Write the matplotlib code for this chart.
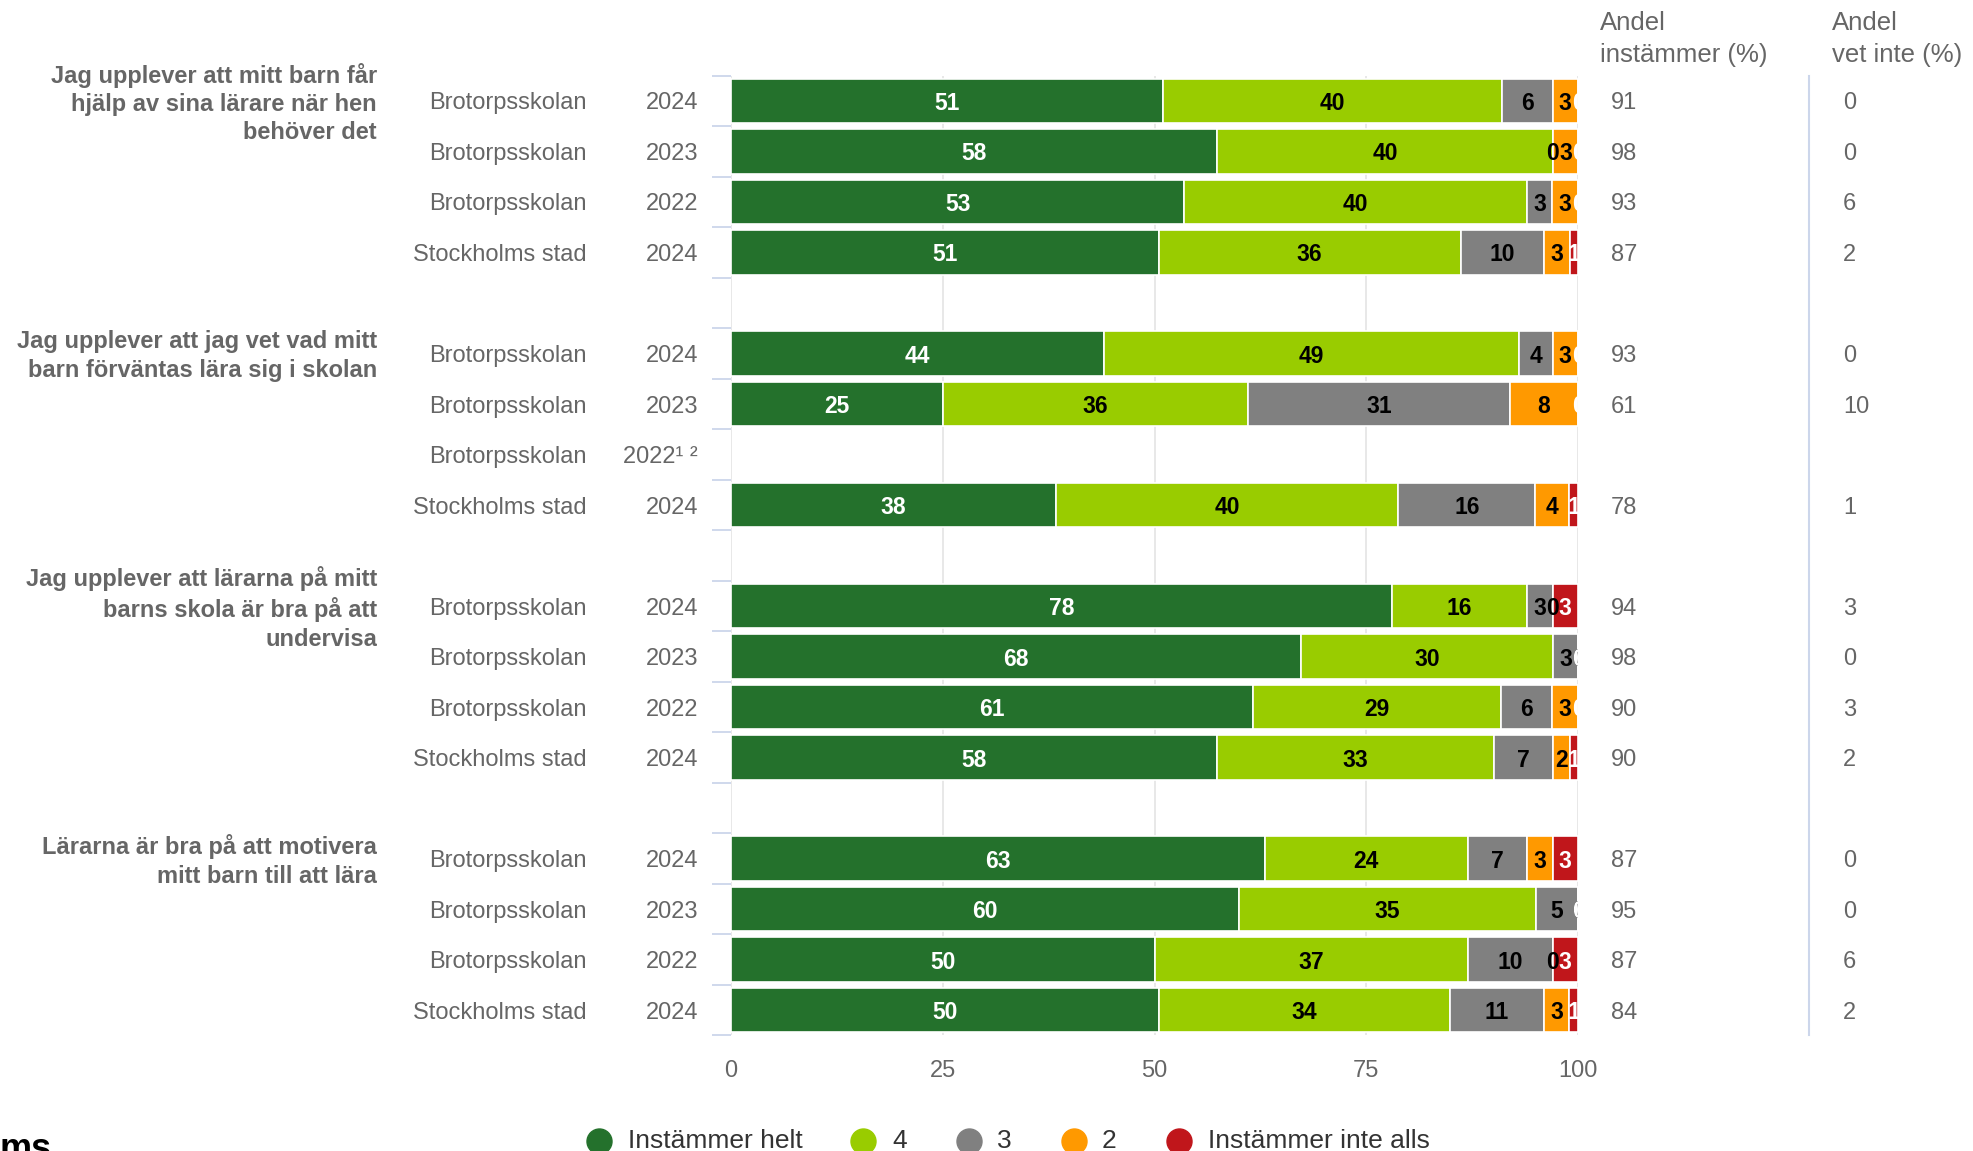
import matplotlib
matplotlib.use("Agg")
import matplotlib.pyplot as plt
import matplotlib.transforms as mtransforms
from matplotlib.lines import Line2D
import numpy as np

plt.rcParams['font.family'] = ['Liberation Sans', 'DejaVu Sans']

# ---------------- data ----------------
questions = [
    "Jag upplever att mitt barn får\nhjälp av sina lärare när hen\nbehöver det",
    "Jag upplever att jag vet vad mitt\nbarn förväntas lära sig i skolan",
    "Jag upplever att lärarna på mitt\nbarns skola är bra på att\nundervisa",
    "Lärarna är bra på att motivera\nmitt barn till att lära",
]
units = ["Brotorpsskolan", "Brotorpsskolan", "Brotorpsskolan", "Stockholms stad"]
years = [
    ["2024", "2023", "2022", "2024"],
    ["2024", "2023", "2022¹ ²", "2024"],
    ["2024", "2023", "2022", "2024"],
    ["2024", "2023", "2022", "2024"],
]
series_names = ["Instämmer helt", "4", "3", "2", "Instämmer inte alls"]
helt = [51, 58, 53, 51, 44, 25, None, 38, 78, 68, 61, 58, 63, 60, 50, 50]
v4 = [40, 40, 40, 36, 49, 36, None, 40, 16, 30, 29, 33, 24, 35, 37, 34]
v3 = [6, 0, 3, 10, 4, 31, None, 16, 3, 3, 6, 7, 7, 5, 10, 11]
v2 = [3, 3, 3, 3, 3, 8, None, 4, 0, 0, 3, 2, 3, 0, 0, 3]
v1 = [0, 0, 0, 1, 0, 0, None, 1, 3, 0, 0, 1, 3, 0, 3, 1]
andel_instammer = ["91", "98", "93", "87", "93", "61", "", "78",
                   "94", "98", "90", "90", "87", "95", "87", "84"]
andel_vet_inte = ["0", "0", "6", "2", "0", "10", "", "1",
                  "3", "0", "3", "2", "0", "0", "6", "2"]
xticks = [0, 25, 50, 75, 100]

colors = ["#24712c", "#99cc00", "#808080", "#ff9900", "#c0161b"]
label_colors = ["white", "black", "black", "black", "white"]

W, H = 1973, 1151
fig = plt.figure(figsize=(W / 100, H / 100), dpi=100)
ax_top, ax_bot = 75.7, 1035.3
ax = fig.add_axes([731 / W, 1 - ax_bot / H, 847 / W, (ax_bot - ax_top) / H])

# positions: 4 groups of 4 with a blank slot between groups
positions = []
for g in range(4):
    for r in range(4):
        positions.append(g * 5 + r)
nslots = 19

series = [helt, v4, v3, v2, v1]
for i, pos in enumerate(positions):
    vals = [s[i] for s in series]
    if vals[0] is None:
        continue
    total = float(sum(vals))
    left = 0.0
    for k, v in enumerate(vals):
        w = v / total * 100.0
        ax.barh(pos, w, left=left, height=0.88, color=colors[k],
                edgecolor="white", linewidth=1.2, zorder=2)
        ax.text(left + w / 2.0, pos + 0.05, str(v), ha="center", va="center",
                fontsize=16.5, fontweight="bold", color=label_colors[k],
                clip_on=True, zorder=5)
        left += w

ax.set_xlim(0, 100)
ax.set_ylim(nslots - 0.5, -0.5)
ax.set_xticks(xticks)
ax.set_xticklabels([str(t) for t in xticks])
ax.tick_params(axis="x", length=0, pad=18, labelsize=17, labelcolor="#666666")
ax.set_yticks(np.arange(-0.5, nslots, 1.0))
ax.set_yticklabels([])
ax.tick_params(axis="y", length=14, width=1.3, color="#ccd6eb", direction="out")
ax.grid(axis="x", color="#e6e6e6", linewidth=1.3, zorder=0)
ax.grid(axis="y", visible=False)
ax.set_axisbelow(True)
for sp in ax.spines.values():
    sp.set_visible(False)

trans = mtransforms.blended_transform_factory(fig.transFigure, ax.transData)
dy = 0.05
for i, pos in enumerate(positions):
    g, r = divmod(i, 4)
    ax.text(587 / W, pos + dy, units[r], transform=trans, ha="right", va="center",
            fontsize=17, color="#666666")
    ax.text(698 / W, pos + dy, years[g][r], transform=trans, ha="right", va="center",
            fontsize=17, color="#666666")
    ax.text(1611 / W, pos + dy, andel_instammer[i], transform=trans, ha="left",
            va="center", fontsize=17, color="#666666")
    ax.text(1843 / W, pos + dy, andel_vet_inte[i], transform=trans, ha="left",
            va="center", fontsize=17, color="#666666")

for g, q in enumerate(questions):
    ax.text(377 / W, g * 5 + dy, q, transform=trans, ha="right", va="center",
            fontsize=17, fontweight="bold", color="#666666", linespacing=1.3)

# column headers
fig.text(1600 / W, 1 - 39 / H, "Andel\ninstämmer (%)", ha="left", va="center",
         fontsize=18.5, color="#666666", linespacing=1.45)
fig.text(1832 / W, 1 - 39 / H, "Andel\nvet inte (%)", ha="left", va="center",
         fontsize=18.5, color="#666666", linespacing=1.45)

# separator line
fig.add_artist(Line2D([1809 / W, 1809 / W], [1 - ax_top / H, 1 - ax_bot / H],
                      transform=fig.transFigure, color="#ccd6eb", linewidth=1.5))

# legend
leg_y = 1 - 1141 / H
marker_x = [599, 863, 969, 1074, 1179]
text_x = [628, 892, 997, 1102, 1208]
for k, name in enumerate(series_names):
    fig.add_artist(Line2D([marker_x[k] / W], [leg_y], marker="o", markersize=18,
                          color=colors[k], linestyle="none",
                          transform=fig.transFigure))
    fig.text(text_x[k] / W, leg_y, name, ha="left", va="center",
             fontsize=19, color="#333333")

# cut-off logo text
fig.text(0.0, 0.001, "ms", ha="left", va="center", fontsize=26,
         fontweight="bold", color="black")

fig.savefig("out.png", dpi=100, facecolor="white")
